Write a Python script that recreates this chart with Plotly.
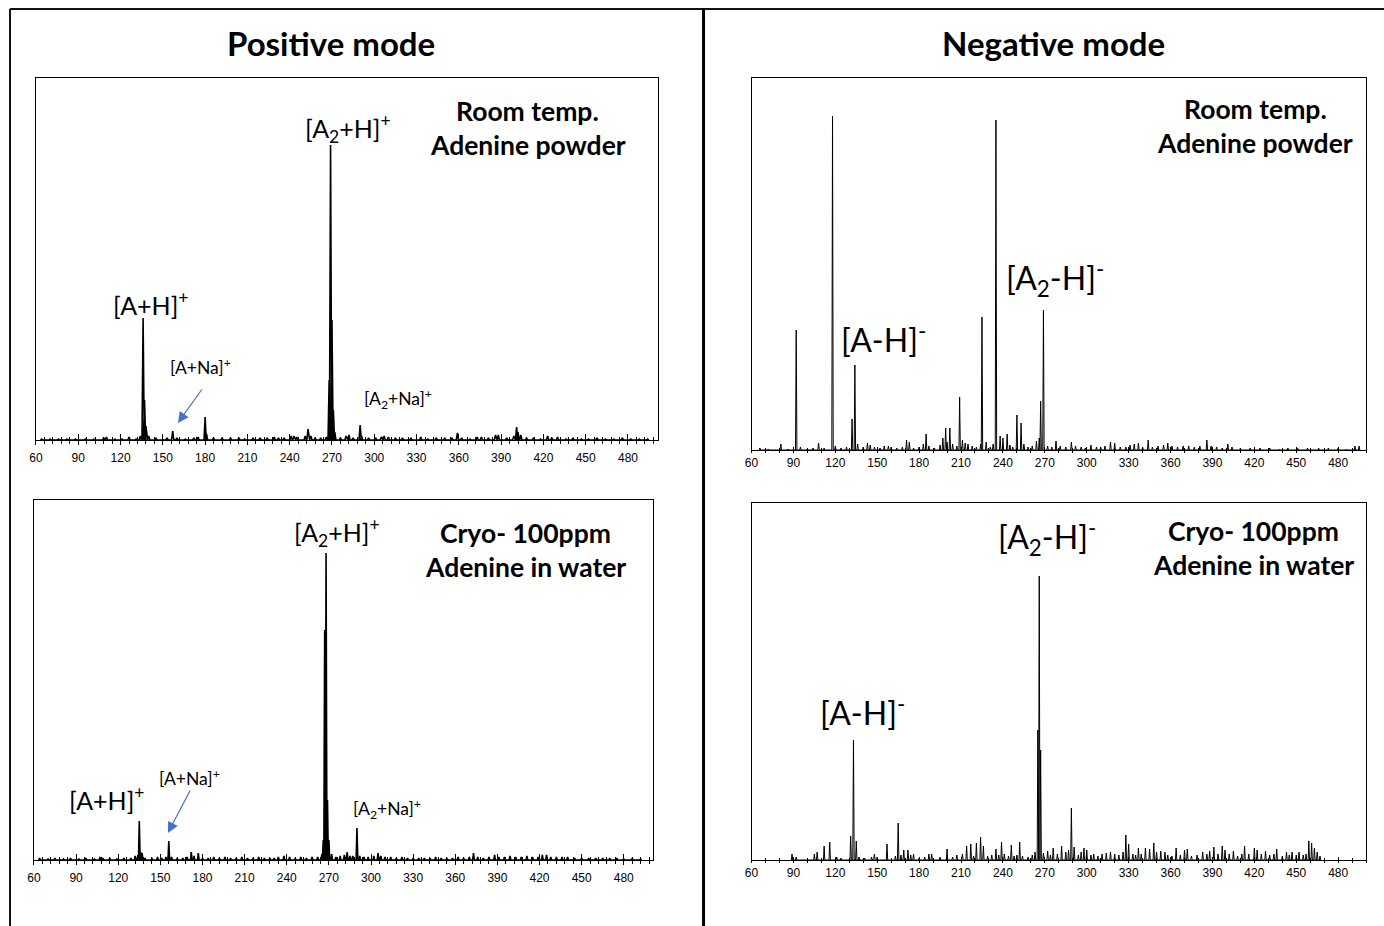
import plotly.graph_objects as go

W, H = 1384, 926

# ---------------- data (m/z, intensity a.u.) ----------------
# Positive mode, room temperature, adenine powder
pos_rt_mz = [64, 70, 76, 82, 88, 95, 101, 108, 110, 116, 121, 126, 131, 134, 136, 137, 138, 140, 145,
             153, 157, 160, 166, 172, 175, 180, 181, 186, 192, 198, 204, 208, 214, 219, 224, 229, 232,
             236, 241, 243, 245, 251, 253, 255, 258, 262, 266, 268, 269, 270, 271, 272, 276, 280, 282,
             285, 290, 291, 296, 301, 305, 307, 310, 315, 320, 326, 333, 338, 344, 350, 355, 359, 362,
             368, 373, 376, 381, 386, 388, 394, 399, 401, 402, 404, 408, 413, 418, 423, 426, 430, 436,
             441, 447, 452, 458, 464, 470, 476, 482, 488, 494]
pos_rt_int = [1, 1, 1, 1, 1, 1, 1, 2, 3, 1, 1, 3, 1, 4, 122, 40, 14, 4, 2,
              2, 9, 2, 1, 2, 3, 23, 6, 2, 2, 2, 2, 1, 2, 2, 2, 3, 2,
              2, 4, 4, 3, 4, 11, 4, 2, 2, 3, 60, 295, 120, 30, 8, 2, 4, 5,
              2, 15, 4, 2, 2, 3, 4, 3, 2, 2, 2, 3, 1, 2, 2, 2, 7, 2,
              1, 3, 3, 2, 5, 5, 2, 4, 13, 8, 5, 2, 2, 1, 4, 2, 3, 1,
              2, 1, 1, 2, 1, 1, 2, 1, 1, 1]

# Negative mode, room temperature, adenine powder
neg_rt_mz = [66, 72, 81, 86, 92, 95, 100, 104, 108, 112, 118, 120, 124, 128, 132, 134, 136, 140, 143,
             145, 148, 152, 155, 158, 160, 164, 168, 171, 173, 176, 180, 183, 185, 187, 191, 195, 197,
             199, 200, 202, 204, 207, 209, 211, 213, 215, 218, 221, 224, 225, 228, 231, 233, 235, 238,
             240, 243, 245, 247, 250, 253, 255, 258, 261, 264, 266, 267, 269, 272, 275, 278, 281, 285,
             289, 292, 296, 299, 303, 307, 310, 313, 317, 320, 324, 328, 331, 334, 337, 340, 344, 347,
             351, 355, 358, 361, 365, 369, 373, 377, 381, 386, 389, 393, 397, 401, 404, 410, 417, 424,
             431, 438, 444, 451, 458, 466, 473, 480, 486, 492, 495]
neg_rt_int = [2, 1, 6, 1, 120, 3, 1, 2, 7, 2, 334, 4, 2, 3, 31, 85, 6, 3, 7,
              5, 3, 2, 4, 4, 3, 2, 3, 10, 8, 2, 3, 6, 16, 4, 2, 5, 12,
              22, 8, 22, 6, 4, 53, 10, 7, 6, 4, 3, 6, 133, 8, 3, 6, 330, 14,
              12, 16, 5, 3, 35, 27, 6, 3, 4, 9, 12, 49, 140, 4, 3, 9, 4, 3,
              8, 4, 3, 2, 5, 3, 3, 4, 8, 7, 3, 3, 5, 6, 7, 3, 10, 3,
              4, 5, 7, 4, 3, 4, 4, 3, 4, 10, 4, 3, 2, 6, 3, 2, 2, 2,
              2, 1, 2, 2, 2, 2, 2, 2, 1, 4, 4]

# Positive mode, cryo, 100 ppm adenine in water
pos_cr_mz = [64, 70, 75, 81, 86, 92, 97, 103, 107, 109, 114, 119, 124, 129, 132, 134, 135, 136, 137,
             139, 144, 148, 151, 154, 156, 158, 162, 166, 169, 172, 174, 177, 180, 184, 188, 192, 196,
             200, 204, 208, 212, 216, 220, 224, 228, 231, 234, 238, 242, 246, 250, 254, 258, 262, 265,
             266, 267, 268, 269, 270, 272, 275, 278, 281, 283, 285, 287, 290, 292, 295, 298, 302, 305,
             307, 310, 314, 318, 322, 326, 330, 334, 338, 342, 346, 350, 354, 358, 362, 366, 370, 373,
             376, 380, 384, 388, 391, 395, 399, 403, 407, 411, 415, 419, 422, 425, 428, 432, 436, 440,
             445, 450, 455, 460, 465, 470, 475, 480, 486, 492]
pos_cr_int = [2, 1, 2, 1, 2, 1, 2, 1, 3, 2, 2, 1, 2, 2, 4, 5, 39, 8, 7,
              2, 2, 3, 2, 3, 19, 3, 2, 2, 3, 8, 4, 7, 2, 2, 3, 2, 3,
              2, 2, 3, 2, 2, 3, 2, 2, 2, 3, 4, 3, 2, 3, 2, 3, 3, 6,
              20, 230, 307, 60, 20, 6, 3, 4, 5, 8, 4, 4, 32, 4, 3, 3, 4, 7,
              4, 3, 3, 2, 3, 2, 2, 2, 2, 2, 3, 2, 2, 2, 3, 2, 3, 7,
              3, 2, 3, 5, 3, 3, 4, 3, 3, 4, 3, 3, 5, 5, 3, 3, 3, 3,
              2, 2, 2, 2, 2, 2, 2, 1, 2, 1]

# Negative mode, cryo, 100 ppm adenine in water
neg_cr_mz = [89, 92, 105, 107, 112, 116, 121, 124, 131, 133, 135, 137, 141, 146, 148, 150, 157, 163,
             165, 167, 169, 172, 174, 176, 180, 184, 187, 189, 195, 200, 204, 207, 211, 214, 217, 219,
             221, 224, 226, 229, 232, 235, 237, 239, 241, 244, 246, 248, 250, 252, 254, 258, 261, 263,
             265, 266, 267, 269, 272, 274, 276, 279, 282, 285, 287, 289, 291, 294, 296, 298, 300, 303,
             305, 308, 311, 314, 317, 320, 323, 326, 328, 330, 333, 335, 337, 339, 342, 345, 348, 350,
             353, 356, 358, 361, 364, 367, 370, 372, 375, 379, 383, 386, 388, 391, 394, 397, 399, 402,
             405, 408, 411, 413, 416, 420, 422, 425, 428, 431, 434, 436, 440, 443, 445, 447, 450, 452,
             455, 457, 459, 461, 463, 465, 467]
neg_cr_int = [6, 3, 6, 8, 14, 18, 3, 2, 24, 120, 19, 3, 2, 3, 6, 3, 16, 4,
              37, 5, 10, 10, 5, 6, 2, 3, 6, 6, 3, 11, 3, 5, 6, 14, 16, 4,
              17, 23, 14, 4, 5, 11, 5, 18, 6, 4, 15, 4, 5, 18, 4, 3, 5, 8,
              130, 284, 110, 7, 9, 5, 12, 6, 14, 8, 10, 52, 13, 5, 8, 12, 10, 5,
              6, 4, 6, 7, 8, 6, 5, 8, 25, 16, 6, 5, 12, 6, 12, 11, 17, 8,
              9, 8, 5, 4, 12, 5, 10, 11, 4, 5, 8, 6, 9, 13, 6, 14, 10, 6,
              9, 4, 6, 14, 6, 12, 10, 6, 9, 5, 6, 11, 4, 8, 5, 8, 5, 8,
              5, 6, 19, 17, 12, 8, 4]

tick_vals = [60, 90, 120, 150, 180, 210, 240, 270, 300, 330, 360, 390, 420, 450, 480]
tick_text = [str(v) for v in tick_vals]


def px(x):
    # horizontal pixel -> paper fraction (small correction for the page's rendering offset)
    return ((x - 6) / 0.9956) / W


def py(y):
    return 1 - y / H


def stick(mz, inten, hw):
    xs, ys = [], []
    for m, h in sorted(zip(mz, inten)):
        xs += [m - hw, m, m + hw]
        ys += [0, h, 0]
    return xs, ys


panels = [
    # (mz, int, half width, line width, x-domain px, y-domain px, xrange, ymax, label standoff, positive)
    (pos_rt_mz, pos_rt_int, 0.8, 1.6, (35, 657), (78, 440), (60, 501), 362, 3, True),
    (neg_rt_mz, neg_rt_int, 0.5, 1.0, (751, 1366), (78, 450), (60, 500), 372, 0, False),
    (pos_cr_mz, pos_cr_int, 0.6, 1.6, (33, 652), (500, 860), (60, 500.5), 360, 3, True),
    (neg_cr_mz, neg_cr_int, 0.5, 1.0, (751, 1366), (503, 860), (60, 500), 357, 0, False),
]

fig = go.Figure()
layout = dict(
    width=W, height=H, margin=dict(l=0, r=0, t=0, b=0, pad=0), autosize=False,
    paper_bgcolor="white", plot_bgcolor="white", showlegend=False,
)

for i, (mz, inten, hw, lw, xd, yd, xr, ymax, stand, pos) in enumerate(panels, start=1):
    xs, ys = stick(mz, inten, hw)
    sfx = "" if i == 1 else str(i)
    fig.add_trace(go.Scatter(x=xs, y=ys, mode="lines", line=dict(color="black", width=lw),
                             xaxis="x" + sfx, yaxis="y" + sfx, hoverinfo="skip"))
    # invisible helper trace to attach overlay axis (inside half of crossing ticks)
    ov = str(i + 4)
    fig.add_trace(go.Scatter(x=[], y=[], xaxis="x" + ov, yaxis="y" + sfx, hoverinfo="skip"))
    if pos:
        maj_out, maj_in, min_len, min_dt = 4, 6, 3, 6
    else:
        maj_out, maj_in, min_len, min_dt = 2, 3, 2, 10
    layout["xaxis" + sfx] = dict(
        domain=[px(xd[0]), px(xd[1])], anchor="y" + sfx, range=list(xr),
        showline=True, linecolor="black", linewidth=1, mirror=True, showgrid=False, zeroline=False,
        tickmode="array", tickvals=tick_vals, ticktext=tick_text,
        ticks="outside", ticklen=maj_out, tickwidth=1, tickcolor="black",
        minor=dict(dtick=min_dt, tick0=60, ticks="outside", ticklen=min_len, tickwidth=1, tickcolor="black"),
        tickfont=dict(family="Liberation Sans, Arial", size=12, color="black"),
        ticklabelstandoff=stand, fixedrange=True,
    )
    layout["xaxis" + ov] = dict(
        overlaying="x" + sfx, anchor="y" + sfx, range=list(xr), side="bottom",
        showline=False, showgrid=False, zeroline=False,
        tickmode="array", tickvals=tick_vals, showticklabels=False,
        ticks="inside", ticklen=maj_in, tickwidth=1, tickcolor="black",
        minor=dict(dtick=min_dt, tick0=60, ticks="inside", ticklen=min_len, tickwidth=1, tickcolor="black"),
        fixedrange=True,
    )
    layout["yaxis" + sfx] = dict(
        domain=[py(yd[1]), py(yd[0])], anchor="x" + sfx, range=[0, ymax],
        showline=True, linecolor="black", linewidth=1, mirror=True, showgrid=False, zeroline=False,
        showticklabels=False, ticks="", fixedrange=True,
    )

fig.update_layout(**layout)

# ---------------- text ----------------
FONT = "Lato"


def txt(s, x, y, size, bold=False):
    fig.add_annotation(
        text=("<b>%s</b>" % s) if bold else s, x=px(x), y=py(y), xref="paper", yref="paper",
        xanchor="center", yanchor="middle", showarrow=False,
        font=dict(family=FONT, size=size, color="black"),
    )


txt("Positive mode", 330, 43, 33, True)
txt("Negative mode", 1053, 43, 33, True)

txt("Room temp.", 527, 111, 26.5, True)
txt("Adenine powder", 527, 145, 26.5, True)
txt("Room temp.", 1255, 109, 26.5, True)
txt("Adenine powder", 1255, 143, 26.5, True)
txt("Cryo- 100ppm", 525, 533, 26.5, True)
txt("Adenine in water", 525, 567, 26.5, True)
txt("Cryo- 100ppm", 1253, 531, 26.5, True)
txt("Adenine in water", 1253, 565, 26.5, True)

txt("[A<sub>2</sub>+H]<sup>+</sup>", 347, 128, 25)
txt("[A+H]<sup>+</sup>", 150, 303, 25)
txt("[A+Na]<sup>+</sup>", 200, 366, 17.5)
txt("[A<sub>2</sub>+Na]<sup>+</sup>", 397, 399, 17.5)

txt("[A-H]<sup>-</sup>", 883, 338, 32)
txt("[A<sub>2</sub>-H]<sup>-</sup>", 1055, 279, 32)

txt("[A<sub>2</sub>+H]<sup>+</sup>", 336, 532, 25)
txt("[A+H]<sup>+</sup>", 106, 798, 25)
txt("[A+Na]<sup>+</sup>", 189, 777, 17.5)
txt("[A<sub>2</sub>+Na]<sup>+</sup>", 386, 809, 17.5)

txt("[A<sub>2</sub>-H]<sup>-</sup>", 1047, 537, 32)
txt("[A-H]<sup>-</sup>", 862, 711, 32)

# blue arrows pointing to [A+Na]+
for hx, hy, tx, ty in [(177, 423, 202, 388), (167, 833, 190, 789)]:
    fig.add_annotation(
        x=px(hx), y=py(hy), xref="paper", yref="paper", text="", showarrow=True,
        ax=tx - hx, ay=ty - hy, arrowhead=2, arrowsize=1.8, arrowwidth=1.2, arrowcolor="#4472C4",
    )

# outer frame and divider
fig.add_shape(type="line", xref="paper", yref="paper", x0=px(9), x1=1.0, y0=py(9), y1=py(9),
              line=dict(color="#111111", width=2))
fig.add_shape(type="line", xref="paper", yref="paper", x0=px(9), x1=px(9), y0=py(9), y1=0,
              line=dict(color="#111111", width=2))
fig.add_shape(type="line", xref="paper", yref="paper", x0=px(703), x1=px(703), y0=py(9), y1=0,
              line=dict(color="#000000", width=3))

fig.write_html(
    "out.html", config={"displayModeBar": False, "responsive": False},
    post_script=("document.documentElement.style.margin='0';document.body.style.margin='0';"
                 "document.body.style.padding='0';document.documentElement.style.overflow='hidden';"
                 "document.body.style.overflow='hidden';"),
)
